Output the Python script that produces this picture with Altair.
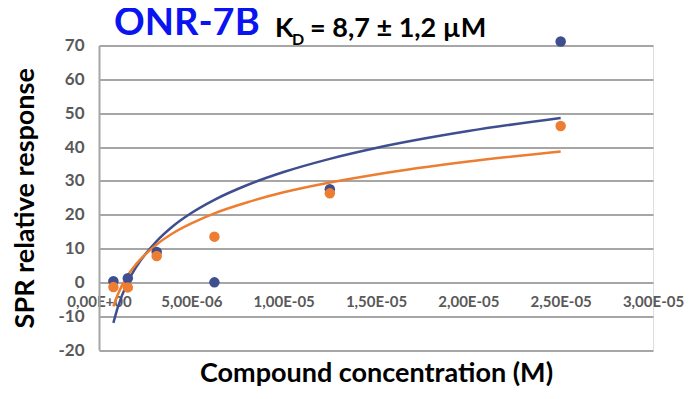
import altair as alt
import pandas as pd

# Measured data (concentration in M, SPR relative response)
conc = [7.8e-7, 1.56e-6, 3.125e-6, 6.25e-6, 1.25e-5, 2.5e-5]
blue_pts = [0.3, 1.2, 9.0, 0.0, 27.5, 71.2]
orange_pts = [-1.4, -1.5, 7.8, 13.5, 26.3, 46.2]

# Trend curves
curve_x = [7.8e-7, 1.0e-6, 1.56e-6, 2.0e-6, 3.125e-6, 4.0e-6, 5.0e-6, 6.25e-6,
           8.0e-6, 1.0e-5, 1.25e-5, 1.5e-5, 2.0e-5, 2.5e-5]
blue_curve = [-12.0, -7.7, 0.1, 4.4, 12.2, 16.6, 20.5, 24.4, 28.7, 32.6, 36.5, 39.7, 44.7, 48.6]
orange_curve = [-7.1, -3.8, 2.1, 5.3, 11.2, 14.5, 17.4, 20.4, 23.6, 26.6, 29.5, 31.9, 35.7, 38.7]

x_ticks = [0, 5e-6, 1e-5, 1.5e-5, 2e-5, 2.5e-5, 3e-5]
x_tick_labels = ["0,00E+00", "5,00E-06", "1,00E-05", "1,50E-05", "2,00E-05", "2,50E-05", "3,00E-05"]
y_ticks = [-20, -10, 0, 10, 20, 30, 40, 50, 60, 70]

series = ["A", "B"]
colors = ["#3E4E8E", "#ED7D31"]

pts = pd.DataFrame({
    "x": conc * 2,
    "y": blue_pts + orange_pts,
    "s": ["A"] * len(conc) + ["B"] * len(conc),
})
curves = pd.DataFrame({
    "x": curve_x * 2,
    "y": blue_curve + orange_curve,
    "s": ["A"] * len(curve_x) + ["B"] * len(curve_x),
})

label_expr = "[" + ",".join("'%s'" % l for l in x_tick_labels) + "][round(datum.value/5e-6)]"

x_axis = alt.Axis(values=x_ticks, labelExpr=label_expr, orient="bottom", offset=-67,
                  domain=False, ticks=False, grid=False, labelOverlap=False, labelFlush=False,
                  labelFont="Lato", labelFontSize=15, labelFontWeight="bold",
                  labelColor="#595959", labelPadding=11,
                  title="Compound concentration (M)", titleFont="Lato",
                  titleFontSize=27, titleFontWeight="bold", titleColor="black",
                  titlePadding=51)
y_axis = alt.Axis(values=y_ticks, tickCount=10, labelExpr="'' + datum.value", labelOverlap=False,
                  grid=True, gridColor="#A6A6A6", gridWidth=2, labelFlush=False,
                  domain=True, domainColor="#A6A6A6", domainWidth=2, ticks=False,
                  labelFont="Lato", labelFontSize=17, labelFontWeight="bold",
                  labelColor="#595959", labelPadding=15,
                  title="SPR relative response", titleFont="Lato",
                  titleFontSize=27, titleFontWeight="bold", titleColor="black",
                  titlePadding=18)
x_scale = alt.Scale(domain=[0, 3e-5], nice=False, zero=False)
y_scale = alt.Scale(domain=[-20, 70], nice=False, zero=False)
color_enc = alt.Color("s:N", scale=alt.Scale(domain=series, range=colors), legend=None)

lines = alt.Chart(curves).mark_line(strokeWidth=2.5, interpolate="monotone").encode(
    x=alt.X("x:Q", scale=x_scale, axis=x_axis),
    y=alt.Y("y:Q", scale=y_scale, axis=y_axis),
    color=color_enc, detail="s:N")
points = alt.Chart(pts).mark_circle(size=110, opacity=1).encode(
    x=alt.X("x:Q", scale=x_scale, axis=x_axis),
    y=alt.Y("y:Q", scale=y_scale, axis=y_axis),
    color=color_enc)

t1 = alt.Chart(pd.DataFrame({"t": ["ONR-7B"]})).mark_text(
    font="Lato", fontSize=38, fontWeight="bold", color="#0A14F0", align="left", baseline="alphabetic"
).encode(text="t:N", x=alt.value(15), y=alt.value(-10.5))
t2 = alt.Chart(pd.DataFrame({"t": ["K"]})).mark_text(
    font="Lato", fontSize=27, fontWeight="bold", color="black", align="left", baseline="alphabetic"
).encode(text="t:N", x=alt.value(176), y=alt.value(-8.5))
t3 = alt.Chart(pd.DataFrame({"t": ["D"]})).mark_text(
    font="Lato", fontSize=16, fontWeight="bold", color="black", align="left", baseline="alphabetic"
).encode(text="t:N", x=alt.value(193), y=alt.value(-1))
t4 = alt.Chart(pd.DataFrame({"t": ["= 8,7 ± 1,2 µM"]})).mark_text(
    font="Lato", fontSize=27, fontWeight="bold", color="black", align="left", baseline="alphabetic"
).encode(text="t:N", x=alt.value(211), y=alt.value(-8.5))

chart = alt.layer(lines, points, t1, t2, t3, t4).properties(
    width=554, height=304.5,
    autosize=alt.AutoSizeParams(type="none"),
    padding={"left": 91, "top": 37.5, "right": 34, "bottom": 41},
).configure_view(stroke=None).configure(background="white")

chart.save("out.html", embed_options={"renderer": "svg", "actions": False})
